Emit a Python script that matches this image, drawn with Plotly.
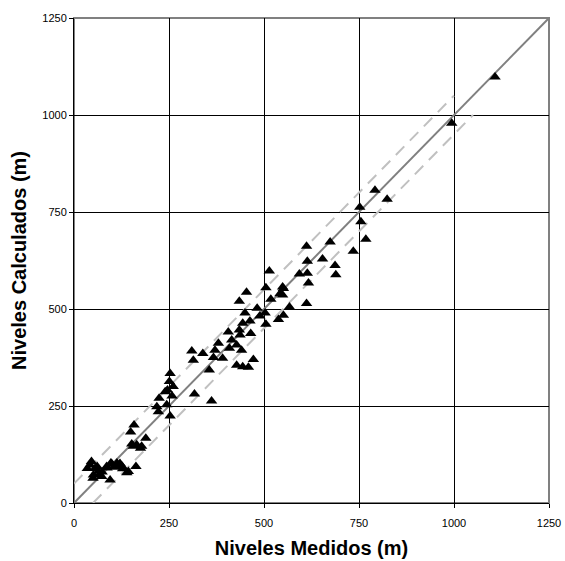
import plotly.graph_objects as go

medidos = [35, 42, 46, 50, 51, 55, 61, 64, 66, 73, 74, 86, 87, 95, 97, 99, 104, 111, 113, 121,
           127, 128, 139, 143, 163,
           149, 152, 156, 158, 165, 175, 178, 189,
           218, 222, 224, 240, 244, 246, 251, 253, 253, 258, 261,
           310, 314, 317, 339, 356, 362, 367, 371, 380, 391,
           406, 409, 415, 428, 428, 435, 435, 437, 441, 444, 444, 450, 454, 459, 463, 465, 472,
           482, 489, 503, 505, 505, 514, 518, 538, 542, 549, 549, 551, 551, 567,
           593, 612, 612, 614, 614, 617, 654, 674, 687, 689, 735,
           752, 755, 768, 792, 824, 994, 1108]
calculados = [89, 98, 107, 64, 72, 89, 94, 82, 72, 68, 80, 94, 90, 59, 103, 102, 92, 94, 103, 102,
              94, 88, 78, 81, 94,
              183, 152, 146, 201, 150, 141, 146, 167,
              248, 235, 270, 287, 253, 291, 313, 224, 334, 276, 300,
              392, 368, 281, 385, 343, 263, 375, 394, 412, 373,
              441, 399, 420, 407, 355, 446, 520, 433, 394, 351, 463, 490, 543, 350, 469, 437, 370,
              502, 482, 490, 461, 555, 598, 525, 473, 539, 536, 557, 484, 553, 505,
              590, 514, 662, 592, 623, 567, 629, 673, 612, 588, 649,
              762, 725, 680, 806, 783, 979, 1098]

ticks = [0, 250, 500, 750, 1000, 1250]
identidad = [0, 1250]
banda_sup_x = [0, 1000]
banda_sup_y = [50, 1050]
banda_inf_x = [50, 1050]
banda_inf_y = [0, 1000]

fig = go.Figure()
fig.add_trace(go.Scatter(x=banda_sup_x, y=banda_sup_y, mode="lines",
                         line=dict(color="#c0c0c0", width=2, dash="12px,8px"), hoverinfo="skip"))
fig.add_trace(go.Scatter(x=banda_inf_x, y=banda_inf_y, mode="lines",
                         line=dict(color="#c0c0c0", width=2, dash="12px,8px"), hoverinfo="skip"))
fig.add_trace(go.Scatter(x=identidad, y=identidad, mode="lines",
                         line=dict(color="#808080", width=2), hoverinfo="skip"))
fig.add_trace(go.Scatter(x=medidos, y=calculados, mode="markers",
                         marker=dict(symbol="triangle-up", size=10, color="black")))

fig.add_shape(type="rect", xref="paper", yref="paper", x0=0, y0=0, x1=1, y1=1,
              line=dict(color="#808080", width=2), layer="below")

axis_common = dict(range=[0, 1250], tickvals=ticks, showgrid=True, gridcolor="#000000",
                   gridwidth=1, zeroline=False, showline=True, linecolor="black", linewidth=1,
                   ticks="outside", ticklen=4, tickcolor="black", automargin=False,
                   tickfont=dict(family="Liberation Sans, Arial", size=11, color="black"))

fig.update_layout(
    width=565, height=561,
    margin=dict(l=74, r=16, t=18, b=58),
    paper_bgcolor="white", plot_bgcolor="white",
    showlegend=False,
    xaxis=dict(**axis_common, ticklabelstandoff=6,
               title=dict(text="<b>Niveles Medidos (m)</b>", standoff=12,
                          font=dict(family="Liberation Sans, Arial", size=20, color="black"))),
    yaxis=dict(**axis_common,
               title=dict(text="<b>Niveles Calculados (m)</b>", standoff=10,
                          font=dict(family="Liberation Sans, Arial", size=20, color="black"))),
)

fig.write_html("out.html", config={"displayModeBar": False},
               post_script="document.body.style.margin='0px';document.body.style.overflow='hidden';")
